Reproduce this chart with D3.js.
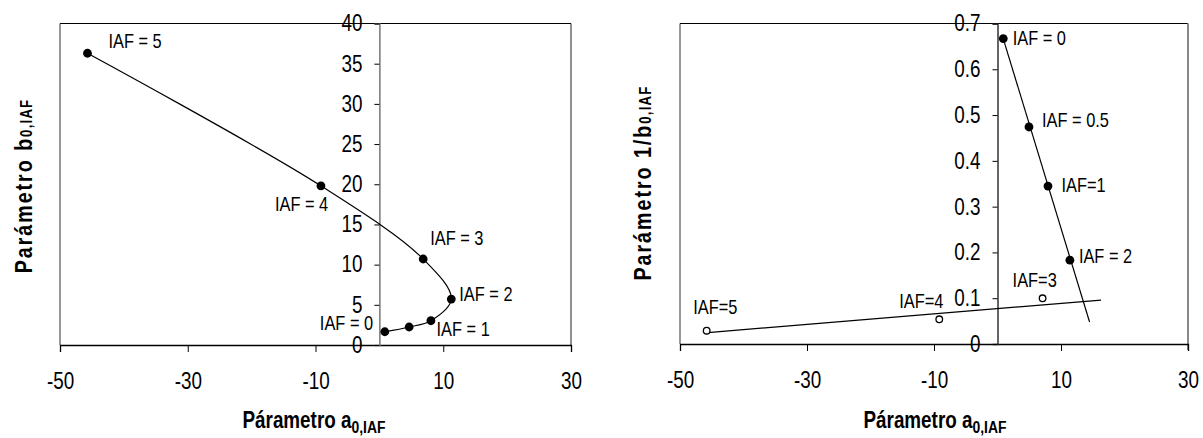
<!DOCTYPE html>
<html>
<head>
<meta charset="utf-8">
<script src="https://cdn.jsdelivr.net/npm/d3@7"></script>
<style>
  html, body { margin: 0; padding: 0; background: #fff; }
  svg { display: block; }
  text { font-family: "Liberation Sans", Arial, sans-serif; }
</style>
</head>
<body>
<svg id="chart" width="1203" height="438"></svg>
<script>
// ---------- DATA ----------
const xTickValues = [-50, -30, -10, 10, 30];
const yTicksLeft = [0, 5, 10, 15, 20, 25, 30, 35, 40];
const yTicksRight = [0, 0.1, 0.2, 0.3, 0.4, 0.5, 0.6, 0.7];

// Left chart: parameter a0 vs b0 by IAF
const iafLeft = [0, 0.5, 1, 2, 3, 4, 5];
const a0Left = [0.85, 4.66, 8.07, 11.26, 6.86, -9.15, -45.7];
const b0Left = [1.65, 2.24, 3.02, 5.72, 10.7, 19.8, 36.3];
const labelsLeft = ["IAF = 0", "", "IAF = 1", "IAF = 2", "IAF = 3", "IAF = 4", "IAF = 5"];

// Right chart: a0 vs 1/b0 ; filled points (IAF 0-2) and open points (IAF 3-5)
const a0Filled = [0.91, 4.96, 7.95, 11.4];
const invBFilled = [0.667, 0.474, 0.345, 0.183];
const labelsFilled = ["IAF = 0", "IAF = 0.5", "IAF=1", "IAF = 2"];
const a0Open = [7.1, -9.17, -45.8];
const invBOpen = [0.0998, 0.054, 0.029];
const labelsOpen = ["IAF=3", "IAF=4", "IAF=5"];

// Fitted straight lines (endpoints)
const fitSteepA = [0.9, 14.5];
const fitSteepB = [0.667, 0.048];
const fitFlatA = [-45.6, 16.3];
const fitFlatB = [0.025, 0.096];

// ---------- LAYOUT ----------
const svg = d3.select("#chart");
const NARROW = 0.82; // horizontal condensing of the narrow typeface

const leftOffsets = [[-11.7, -1.5, "end"], null, [5.6, 15.3, "start"], [8, 2, "start"], [7, -14, "start"], [-46, 25, "start"], [21, -5, "start"]];
const filledOffsets = [[9.4, 6.7], [13, 0], [13.5, 6], [9, 2.3]];
const openOffsets = [[-30, -11.6], [-40, -11], [-13.4, -16.7]];

function narrowLabel(g, x, y, txt, size, anchor) {
  return g.append("text")
    .attr("transform", `translate(${x},${y}) scale(${NARROW},1)`)
    .attr("text-anchor", anchor || "start")
    .attr("font-size", size).attr("fill", "#000").text(txt);
}

function frame(g, x, y, opts) {
  const [x0, x1] = x.range();
  const [yb, yt] = y.range();
  g.append("line").attr("x1", x0).attr("x2", x1).attr("y1", yt).attr("y2", yt).attr("stroke", "#000").attr("stroke-width", 1);
  g.append("line").attr("x1", x0).attr("x2", x0).attr("y1", yt).attr("y2", yb).attr("stroke", "#333").attr("stroke-width", 1);
  g.append("line").attr("x1", x1).attr("x2", x1).attr("y1", yt).attr("y2", yb + (opts.rightExt || 0)).attr("stroke", opts.rightColor).attr("stroke-width", opts.rightWidth);

  const xa = g.append("g").attr("transform", `translate(0,${yb})`)
    .call(d3.axisBottom(x).tickValues(xTickValues).tickSize(7).tickFormat(d => String(d)));
  xa.select(".domain").attr("stroke", "#000").attr("stroke-width", 1.3);
  xa.selectAll(".tick line").attr("stroke", "#000");
  xa.selectAll(".tick text").attr("y", 0).attr("dy", 0)
    .attr("transform", `translate(0,44) scale(${NARROW},1)`)
    .attr("font-size", 23).attr("fill", "#000").attr("font-family", null);

  const ya = g.append("g").attr("transform", `translate(${x(0)},0)`)
    .call(d3.axisLeft(y).tickValues(opts.yTicks).tickSize(5).tickFormat(opts.fmt));
  ya.select(".domain").attr("stroke", opts.axisColor).attr("stroke-width", 1.5);
  ya.selectAll(".tick line").attr("stroke", "#000");
  ya.selectAll(".tick text").attr("x", 0)
    .attr("transform", `translate(-17,0) scale(${NARROW},1)`)
    .attr("font-size", 23).attr("fill", "#000").attr("font-family", null);
}

function xTitle(g, cx, baseline) {
  const t = g.append("text")
    .attr("transform", `translate(${cx},${baseline}) scale(${NARROW},1)`)
    .attr("text-anchor", "middle").attr("font-weight", "bold").attr("font-size", 23).attr("fill", "#000");
  t.append("tspan").text("Párametro a");
  t.append("tspan").attr("font-size", 17).attr("dy", 5).text("0,IAF");
}

function yTitle(g, bx, cy, main, sub) {
  const t = g.append("text")
    .attr("transform", `translate(${bx},${cy}) rotate(-90) scale(${NARROW},1)`)
    .attr("text-anchor", "middle").attr("font-weight", "bold").attr("font-size", 24)
    .attr("letter-spacing", 2.4).attr("fill", "#000");
  t.append("tspan").text(main);
  t.append("tspan").attr("font-size", 16).attr("letter-spacing", 1.5).text(sub);
}

// ---------- LEFT CHART ----------
{
  const g = svg.append("g");
  const x = d3.scaleLinear().domain([-50, 30]).range([60, 571]);
  const y = d3.scaleLinear().domain([0, 40]).range([345, 23.5]);
  frame(g, x, y, { yTicks: yTicksLeft, fmt: d => String(d), axisColor: "#777", rightColor: "#222", rightWidth: 1 });

  const pts = iafLeft.map((v, i) => ({ iaf: v, a: a0Left[i], b: b0Left[i], label: labelsLeft[i], o: leftOffsets[i] }));
  const line = d3.line().x(d => x(d.a)).y(d => y(d.b)).curve(d3.curveCatmullRom.alpha(0.5));
  g.append("path").datum(pts).attr("d", line).attr("fill", "none").attr("stroke", "#000").attr("stroke-width", 1.2);
  g.selectAll("circle.pt").data(pts).join("circle").attr("class", "pt")
    .attr("cx", d => x(d.a)).attr("cy", d => y(d.b)).attr("r", 4.4).attr("fill", "#000");
  pts.filter(d => d.o).forEach(d => narrowLabel(g, x(d.a) + d.o[0], y(d.b) + d.o[1], d.label, 20, d.o[2]));

  xTitle(g, 314, 428);
  yTitle(g, 32, 186, "Parámetro b", "0,IAF");
}

// ---------- RIGHT CHART ----------
{
  const g = svg.append("g");
  const x = d3.scaleLinear().domain([-50, 30]).range([680, 1188]);
  const y = d3.scaleLinear().domain([0, 0.7]).range([344, 23.5]);
  frame(g, x, y, { yTicks: yTicksRight, fmt: d => d === 0 ? "0" : d3.format(".1f")(d), axisColor: "#333", rightColor: "#888", rightWidth: 2, rightExt: 6 });

  const lineFn = d3.line().x(d => x(d[0])).y(d => y(d[1]));
  g.append("path").datum(d3.zip(fitSteepA, fitSteepB)).attr("d", lineFn)
    .attr("fill", "none").attr("stroke", "#000").attr("stroke-width", 1.2);
  g.append("path").datum(d3.zip(fitFlatA, fitFlatB)).attr("d", lineFn)
    .attr("fill", "none").attr("stroke", "#000").attr("stroke-width", 1.2);

  const filled = a0Filled.map((a, i) => ({ a, v: invBFilled[i], label: labelsFilled[i], o: filledOffsets[i] }));
  const open = a0Open.map((a, i) => ({ a, v: invBOpen[i], label: labelsOpen[i], o: openOffsets[i] }));

  g.selectAll("circle.f").data(filled).join("circle").attr("class", "f")
    .attr("cx", d => x(d.a)).attr("cy", d => y(d.v)).attr("r", 4.4).attr("fill", "#000");
  g.selectAll("circle.o").data(open).join("circle").attr("class", "o")
    .attr("cx", d => x(d.a)).attr("cy", d => y(d.v)).attr("r", 3.3)
    .attr("fill", "#fff").attr("stroke", "#000").attr("stroke-width", 1.3);

  filled.concat(open).forEach(d => narrowLabel(g, x(d.a) + d.o[0], y(d.v) + d.o[1], d.label, 20, "start"));

  xTitle(g, 935, 428);
  yTitle(g, 651, 183, "Parámetro  1/b", "0,IAF");
}
</script>
</body>
</html>
